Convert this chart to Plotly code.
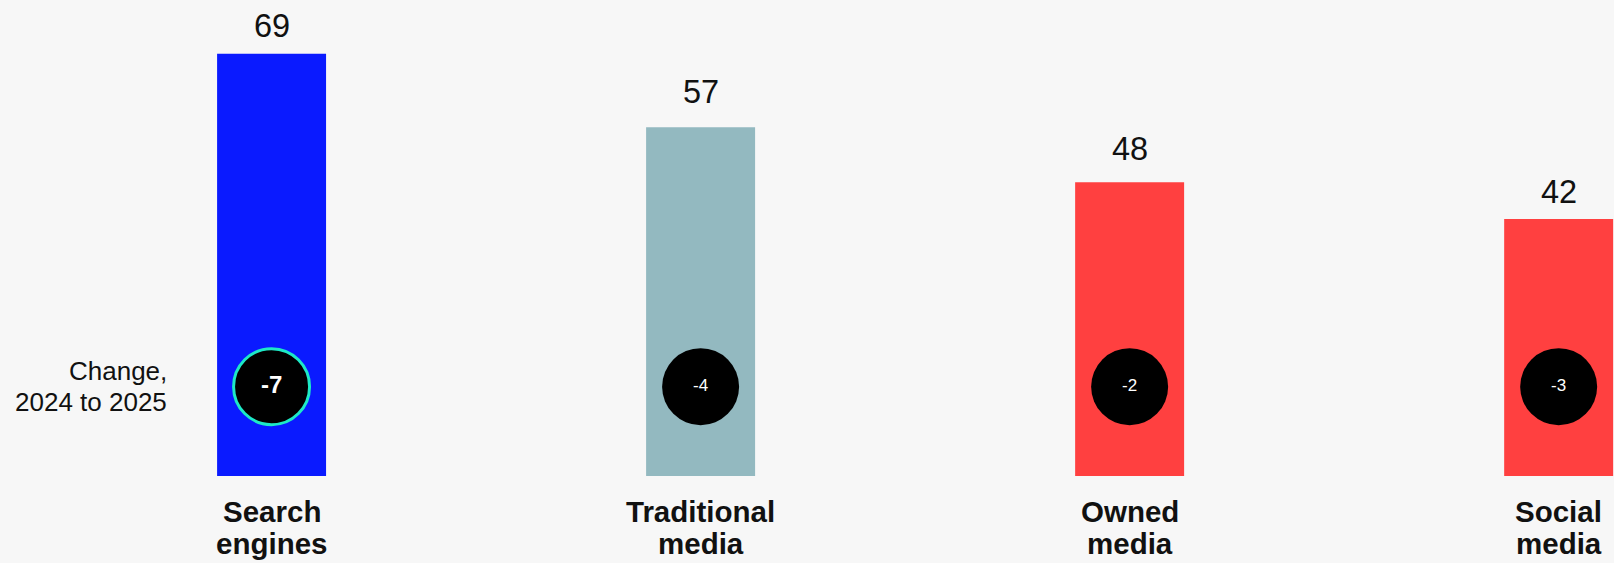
import plotly.graph_objects as go

# ---- data ----
categories = ["Search engines", "Traditional media", "Owned media", "Social media"]
label_line1 = ["Search", "Traditional", "Owned", "Social"]
label_line2 = ["engines", "media", "media", "media"]
values_2025 = [69, 57, 48, 42]
change_2024_2025 = [-7, -4, -2, -3]

# ---- styles ----
bar_colors = ["#0a1aff", "#93b9c0", "#ff4040", "#ff4040"]
value_label_shift = [28, 35.5, 33.5, 26.5]  # px above bar top
BG = "#f7f7f7"
TEXT = "#111111"
FONT = "Liberation Sans, Arial, Helvetica, sans-serif"
CIRCLE_Y = 14.6  # vertical placement of change bubbles (axis units)

fig = go.Figure()

fig.add_trace(go.Bar(
    x=categories,
    y=values_2025,
    marker=dict(color=bar_colors, line=dict(width=0)),
    width=0.254,
    hoverinfo="skip",
))

circle_text = [("<b>%d</b>" % v) if i == 0 else ("%d" % v) for i, v in enumerate(change_2024_2025)]
fig.add_trace(go.Scatter(
    x=categories,
    y=[CIRCLE_Y] * len(categories),
    mode="markers+text",
    marker=dict(
        size=[76, 77, 77, 77],
        color="black",
        opacity=1,
        line=dict(width=[3, 0, 0, 0], color="#1de9c6"),
    ),
    text=circle_text,
    textposition="middle center",
    textfont=dict(color="white", size=[24, 17, 17, 17], family=FONT),
    hoverinfo="skip",
    cliponaxis=False,
))

annotations = []
for c, v, s in zip(categories, values_2025, value_label_shift):
    annotations.append(dict(
        x=c, y=v, xref="x", yref="y", text=str(v), showarrow=False,
        yanchor="middle", yshift=s, font=dict(size=32.5, color=TEXT, family=FONT),
    ))
for c, l1, l2 in zip(categories, label_line1, label_line2):
    annotations.append(dict(
        x=c, y=0, xref="x", yref="y", text="<b>%s</b>" % l1, showarrow=False,
        yanchor="middle", yshift=-35.5, font=dict(size=29.5, color=TEXT, family=FONT),
    ))
    annotations.append(dict(
        x=c, y=0, xref="x", yref="y", text="<b>%s</b>" % l2, showarrow=False,
        yanchor="middle", yshift=-67.5, font=dict(size=29.5, color=TEXT, family=FONT),
    ))
annotations.append(dict(
    x=0, y=0, xref="paper", yref="y", text="Change,", showarrow=False,
    xanchor="right", xshift=169, yanchor="middle", yshift=105,
    font=dict(size=26, color=TEXT, family=FONT),
))
annotations.append(dict(
    x=0, y=0, xref="paper", yref="y", text="2024 to 2025", showarrow=False,
    xanchor="right", xshift=169, yanchor="middle", yshift=74,
    font=dict(size=26, color=TEXT, family=FONT),
))

fig.update_layout(
    width=1614, height=563,
    margin=dict(l=0, r=0, t=17, b=87),
    paper_bgcolor=BG, plot_bgcolor=BG,
    showlegend=False,
    annotations=annotations,
    font=dict(family=FONT, color=TEXT),
    xaxis=dict(range=[-0.633, 3.129], showticklabels=False, showgrid=False,
               zeroline=False, showline=False, ticks=""),
    yaxis=dict(range=[0, 75], showticklabels=False, showgrid=False,
               zeroline=False, showline=False, ticks=""),
)

fig.write_html(
    "out.html",
    config={"displayModeBar": False},
    post_script="document.body.style.margin='0';document.body.style.padding='0';"
                "document.body.style.overflow='hidden';document.body.style.background='%s';" % BG,
)
